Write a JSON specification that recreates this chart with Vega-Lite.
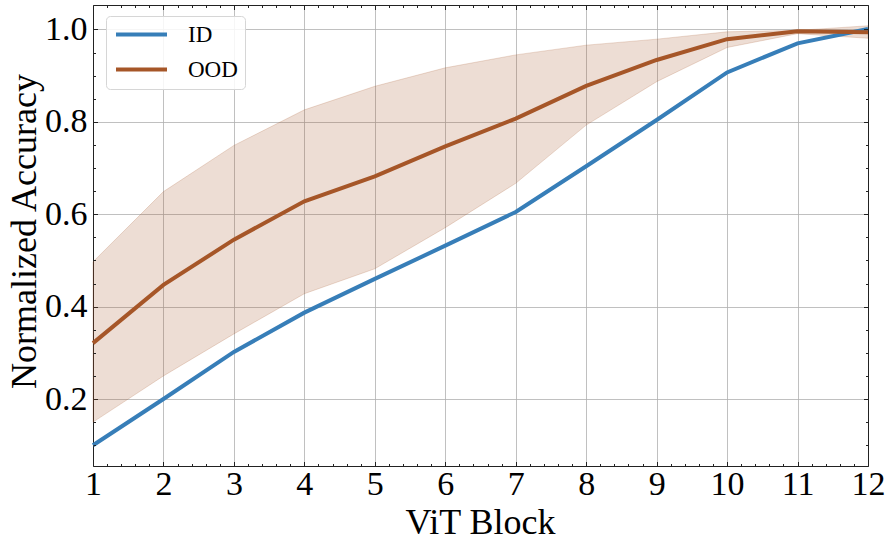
{
  "$schema": "https://vega.github.io/schema/vega-lite/v6.json",
  "width": 775,
  "height": 461,
  "autosize": {"type": "none"},
  "padding": {"left": 93, "top": 5, "right": 22, "bottom": 79},
  "background": "white",
  "config": {
    "view": {"stroke": null},
    "font": "Liberation Serif",
    "axis": {
      "domainColor": "#222222",
      "domainWidth": 1,
      "tickColor": "#222222",
      "tickWidth": 1,
      "gridColor": "#b0b0b0",
      "gridWidth": 0.8,
      "labelFont": "Liberation Serif",
      "labelFontSize": 34,
      "labelColor": "black",
      "titleFont": "Liberation Serif",
      "titleFontSize": 36,
      "titleFontWeight": "normal",
      "titleColor": "black"
    },
    "legend": {
      "orient": "none",
      "legendX": 13,
      "legendY": 11,
      "padding": 7,
      "fillColor": "rgba(255,255,255,0.85)",
      "strokeColor": "#d6d6d6",
      "cornerRadius": 4,
      "symbolType": "M-1,0H5",
      "symbolSize": 289,
      "symbolStrokeWidth": 4,
      "labelFont": "Liberation Serif",
      "labelFontSize": 23,
      "labelColor": "black",
      "labelOffset": 52,
      "rowPadding": 11,
      "title": null
    }
  },
  "data": {
    "values": [
      {"block": 1, "series": "ID", "acc": 0.100},
      {"block": 2, "series": "ID", "acc": 0.200},
      {"block": 3, "series": "ID", "acc": 0.302},
      {"block": 4, "series": "ID", "acc": 0.387},
      {"block": 5, "series": "ID", "acc": 0.460},
      {"block": 6, "series": "ID", "acc": 0.532},
      {"block": 7, "series": "ID", "acc": 0.605},
      {"block": 8, "series": "ID", "acc": 0.704},
      {"block": 9, "series": "ID", "acc": 0.804},
      {"block": 10, "series": "ID", "acc": 0.907},
      {"block": 11, "series": "ID", "acc": 0.970},
      {"block": 12, "series": "ID", "acc": 1.001},
      {"block": 1, "series": "OOD", "acc": 0.321, "lo": 0.150, "hi": 0.497},
      {"block": 2, "series": "OOD", "acc": 0.447, "lo": 0.250, "hi": 0.649},
      {"block": 3, "series": "OOD", "acc": 0.545, "lo": 0.341, "hi": 0.749},
      {"block": 4, "series": "OOD", "acc": 0.628, "lo": 0.428, "hi": 0.826},
      {"block": 5, "series": "OOD", "acc": 0.682, "lo": 0.482, "hi": 0.877},
      {"block": 6, "series": "OOD", "acc": 0.747, "lo": 0.571, "hi": 0.917},
      {"block": 7, "series": "OOD", "acc": 0.807, "lo": 0.667, "hi": 0.945},
      {"block": 8, "series": "OOD", "acc": 0.878, "lo": 0.793, "hi": 0.966},
      {"block": 9, "series": "OOD", "acc": 0.934, "lo": 0.887, "hi": 0.979},
      {"block": 10, "series": "OOD", "acc": 0.979, "lo": 0.961, "hi": 0.995},
      {"block": 11, "series": "OOD", "acc": 0.996, "lo": 0.991, "hi": 0.998},
      {"block": 12, "series": "OOD", "acc": 0.994, "lo": 0.981, "hi": 1.008}
    ]
  },
  "resolve": {"axis": {"x": "independent", "y": "independent"}},
  "layer": [
    {
      "transform": [{"filter": "datum.series == 'OOD'"}],
      "mark": {"type": "area", "fill": "#a65628", "fillOpacity": 0.2, "stroke": "#a65628", "strokeOpacity": 0.2, "strokeWidth": 1},
      "encoding": {
        "x": {
          "field": "block", "type": "quantitative",
          "scale": {"domain": [1, 12], "nice": false, "zero": false},
          "axis": {
            "orient": "bottom", "values": [1,2,3,4,5,6,7,8,9,10,11,12],
            "grid": true, "tickSize": -4.5, "labelPadding": 6,
            "labelFlush": false, "labelOverlap": false,
            "title": "ViT Block", "titleX": 387, "titleY": 67,
            "titleBaseline": "alphabetic", "titleAlign": "center"
          }
        },
        "y": {
          "field": "lo", "type": "quantitative",
          "scale": {"domain": [0.055, 1.053], "nice": false, "zero": false},
          "axis": {
            "orient": "left", "values": [0.2, 0.4, 0.6, 0.8, 1.0], "format": ".1f",
            "grid": true, "tickSize": -4.5, "labelPadding": 10.5,
            "labelFlush": false, "labelOverlap": false,
            "title": "Normalized Accuracy", "titleX": -58, "titleY": 226,
            "titleAngle": -90, "titleBaseline": "alphabetic", "titleAlign": "center"
          }
        },
        "y2": {"field": "hi"}
      }
    },
    {
      "mark": {"type": "line", "strokeWidth": 4},
      "encoding": {
        "x": {
          "field": "block", "type": "quantitative",
          "axis": {"orient": "top", "values": [1,2,3,4,5,6,7,8,9,10,11,12], "grid": false, "labels": false, "tickSize": -4.5, "title": null, "zindex": 1}
        },
        "y": {
          "field": "acc", "type": "quantitative",
          "axis": {"orient": "right", "values": [0.2, 0.4, 0.6, 0.8, 1.0], "grid": false, "labels": false, "tickSize": -4.5, "title": null, "zindex": 1}
        },
        "color": {
          "field": "series", "type": "nominal",
          "scale": {"domain": ["ID", "OOD"], "range": ["#377eb8", "#a65628"]}
        }
      }
    },
    {
      "mark": {"type": "point", "opacity": 0},
      "encoding": {
        "x": {
          "field": "block", "type": "quantitative",
          "axis": {"orient": "bottom", "values": [1.2,1.4,1.6,1.8,2.2,2.4,2.6,2.8,3.2,3.4,3.6,3.8,4.2,4.4,4.6,4.8,5.2,5.4,5.6,5.8,6.2,6.4,6.6,6.8,7.2,7.4,7.6,7.8,8.2,8.4,8.6,8.8,9.2,9.4,9.6,9.8,10.2,10.4,10.6,10.8,11.2,11.4,11.6,11.8], "grid": false, "labels": false, "domain": false, "tickSize": -2.5, "title": null, "zindex": 1}
        },
        "y": {
          "field": "acc", "type": "quantitative",
          "axis": {"orient": "left", "values": [0.1,0.15,0.25,0.3,0.35,0.45,0.5,0.55,0.65,0.7,0.75,0.85,0.9,0.95], "grid": false, "labels": false, "domain": false, "tickSize": -2.5, "title": null, "zindex": 1}
        }
      }
    },
    {
      "mark": {"type": "point", "opacity": 0},
      "encoding": {
        "x": {
          "field": "block", "type": "quantitative",
          "axis": {"orient": "top", "values": [1.2,1.4,1.6,1.8,2.2,2.4,2.6,2.8,3.2,3.4,3.6,3.8,4.2,4.4,4.6,4.8,5.2,5.4,5.6,5.8,6.2,6.4,6.6,6.8,7.2,7.4,7.6,7.8,8.2,8.4,8.6,8.8,9.2,9.4,9.6,9.8,10.2,10.4,10.6,10.8,11.2,11.4,11.6,11.8], "grid": false, "labels": false, "domain": false, "tickSize": -2.5, "title": null, "zindex": 1}
        },
        "y": {
          "field": "acc", "type": "quantitative",
          "axis": {"orient": "right", "values": [0.1,0.15,0.25,0.3,0.35,0.45,0.5,0.55,0.65,0.7,0.75,0.85,0.9,0.95], "grid": false, "labels": false, "domain": false, "tickSize": -2.5, "title": null, "zindex": 1}
        }
      }
    }
  ]
}
